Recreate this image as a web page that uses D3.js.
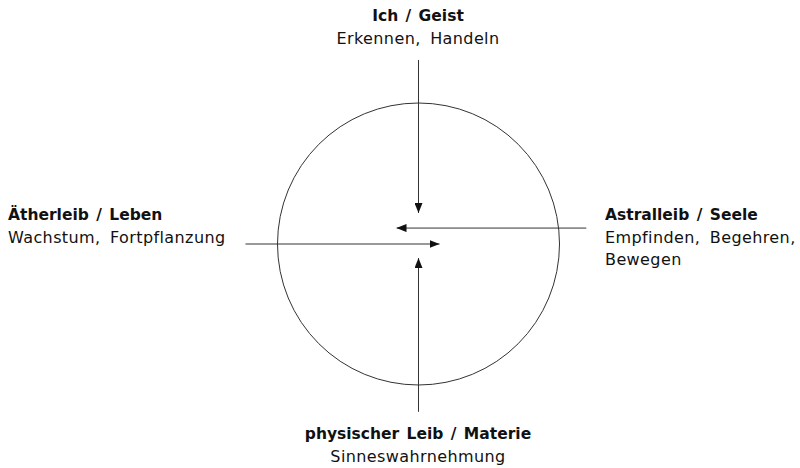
<!DOCTYPE html>
<html>
<head>
<meta charset="utf-8">
<script src="https://cdn.jsdelivr.net/npm/d3@7"></script>
<style>
  body { margin: 0; background: #fff; }
  text { font-family: 'DejaVu Sans', sans-serif; font-size: 16px; fill: #111; letter-spacing: 0.4px; word-spacing: 4px; }
  .title { font-weight: bold; font-size: 15.5px; letter-spacing: 0; word-spacing: 2px; }
</style>
</head>
<body>
<script>
// labels for the four corners, in order: top, left, right, bottom
var titles = ['Ich / Geist', 'Ätherleib / Leben', 'Astralleib / Seele', 'physischer Leib / Materie']
var subtitles = [['Erkennen, Handeln'], ['Wachstum, Fortpflanzung'], ['Empfinden, Begehren,', 'Bewegen'], ['Sinneswahrnehmung']]

// arrows in circle units (radius = 1), from start to tip
var arrowFrom = [[0, -1.305], [-1.227, 0], [1.19, -0.113], [0, 1.19]]
var arrowTo = [[0, -0.22], [0.149, 0], [-0.156, -0.113], [0, 0.1]]

var width = 800
var height = 468
var cx = 418.5, cy = 244, r = 141

var x = d3.scaleLinear().domain([-1, 1]).range([cx - r, cx + r])
var y = d3.scaleLinear().domain([-1, 1]).range([cy - r, cy + r])

var svg = d3.select('body')
  .append('svg')
    .attr('width', width)
    .attr('height', height)

// arrow head marker
svg.append('defs').append('marker')
    .attr('id', 'head')
    .attr('viewBox', '0 0 10 8')
    .attr('refX', 10)
    .attr('refY', 4)
    .attr('markerWidth', 10)
    .attr('markerHeight', 8)
    .attr('markerUnits', 'userSpaceOnUse')
    .attr('orient', 'auto')
  .append('path')
    .attr('d', 'M0,0 L10,4 L0,8 Z')
    .attr('fill', '#111')

svg.append('circle')
  .attr('cx', x(0))
  .attr('cy', y(0))
  .attr('r', x(1) - x(0))
  .attr('fill', 'none')
  .attr('stroke', '#333')
  .attr('stroke-width', 1)

svg.selectAll('line.arrow')
    .data(arrowFrom)
  .enter().append('line')
    .attr('class', 'arrow')
    .attr('x1', function(d) { return x(d[0]) })
    .attr('y1', function(d) { return y(d[1]) })
    .attr('x2', function(d, i) { return x(arrowTo[i][0]) })
    .attr('y2', function(d, i) { return y(arrowTo[i][1]) })
    .attr('stroke', '#333')
    .attr('stroke-width', 1)
    .attr('marker-end', 'url(#head)')

// label placement: anchor point and alignment per corner
var labelPos = [
  {x: 418, y: 21, anchor: 'middle'},
  {x: 8, y: 220, anchor: 'start'},
  {x: 605, y: 220, anchor: 'start'},
  {x: 418, y: 439, anchor: 'middle'}
]
var lineH = 22.5

titles.forEach(function(t, i) {
  var p = labelPos[i]
  var g = svg.append('text')
    .attr('x', p.x)
    .attr('y', p.y)
    .attr('text-anchor', p.anchor)
  g.append('tspan')
    .attr('class', 'title')
    .attr('x', p.x)
    .text(t)
  subtitles[i].forEach(function(s, j) {
    g.append('tspan')
      .attr('x', p.x)
      .attr('dy', lineH)
      .text(s)
  })
})
</script>
</body>
</html>
